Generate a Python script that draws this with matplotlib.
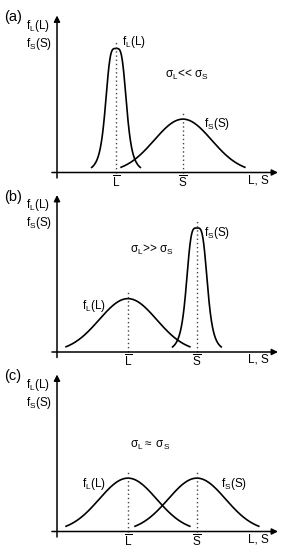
import numpy as np
import matplotlib.pyplot as plt

plt.rcParams['font.family'] = ['Liberation Sans', 'DejaVu Sans']
plt.rcParams['mathtext.fontset'] = 'custom'
plt.rcParams['mathtext.rm'] = 'Liberation Sans'
plt.rcParams['mathtext.it'] = 'Liberation Sans:italic'

# schematic values for the three panels (x in 0..10, y in 0..1)
panel_names = ['(a)', '(b)', '(c)']
mean_L = [2.67, 3.21, 3.21]
mean_S = [5.70, 6.33, 6.33]
width_L = [0.5, 1.3, 1.3]      # spread of f_L
width_S = [1.3, 0.5, 1.3]      # spread of f_S
narrow_L = [True, False, False]
narrow_S = [False, True, False]
peak_narrow = 0.79
peak_broad = 0.34
relations = ['<<', '>>', r'$\approx$']
rel_pos = [(4.89, 0.62), (3.29, 0.65), (3.29, 0.55)]
fL_pos = [(2.92, 0.83), (1.14, 0.29), (1.14, 0.30)]
fS_pos = [(6.67, 0.31), (6.67, 0.76), (7.42, 0.30)]
axis_y = [172.5, 352, 531.5]   # pixel row of each x axis

fig = plt.figure(figsize=(2.89, 5.5), dpi=100)


def curve(m, w, narrow):
    # narrow peaks: flat-topped with flared tails, broad: bell shape
    if narrow:
        x = np.linspace(m - 1.1, m + 1.1, 200)
        y = peak_narrow / (1 + ((x - m) / w) ** 4)
    else:
        x = np.linspace(m - 2.8, m + 2.8, 200)
        y = peak_broad * np.exp(-(x - m) ** 2 / (2 * w ** 2))
    return x, y


fs = 8.5
for i in range(3):
    y0 = axis_y[i]
    ax = fig.add_axes([57 / 289, 1 - y0 / 550, 221 / 289, 157 / 550])
    ax.set_xlim(0, 10)
    ax.set_ylim(0, 1)
    ax.axis('off')

    # axes with arrows
    ax.annotate('', xy=(10, 0), xytext=(-0.23, 0),
                arrowprops=dict(arrowstyle='-|>', lw=1.1, color='k',
                                mutation_scale=9, shrinkA=0, shrinkB=0),
                annotation_clip=False)
    ax.annotate('', xy=(0, 1.0), xytext=(0, -0.035),
                arrowprops=dict(arrowstyle='-|>', lw=1.1, color='k',
                                mutation_scale=9, shrinkA=0, shrinkB=0),
                annotation_clip=False)

    for m, w, nar in [(mean_L[i], width_L[i], narrow_L[i]),
                      (mean_S[i], width_S[i], narrow_S[i])]:
        x, y = curve(m, w, nar)
        ax.plot(x, y, color='k', lw=1.2, clip_on=False)
        top = (peak_narrow if nar else peak_broad) + 0.05
        ax.plot([m, m], [0, top], color='#444444', lw=1.0,
                linestyle=(0, (1, 2)), clip_on=False)

    ax.text(mean_L[i], -0.012, r'$\mathrm{\overline{L}}$', ha='center', va='top', fontsize=fs)
    ax.text(mean_S[i], -0.012, r'$\mathrm{\overline{S}}$', ha='center', va='top', fontsize=fs)
    ax.text(9.1, -0.05, 'L, S', ha='center', va='center', fontsize=fs)

    ax.text(-2.0, 0.99, panel_names[i], ha='center', va='center', fontsize=10.5)
    ax.text(-1.42, 0.935, r'$\mathrm{f_L(L)}$', ha='left', va='center', fontsize=fs)
    ax.text(-1.42, 0.82, r'$\mathrm{f_S(S)}$', ha='left', va='center', fontsize=fs)

    ax.text(fL_pos[i][0], fL_pos[i][1], r'$\mathrm{f_L(L)}$', ha='left', va='center', fontsize=fs)
    ax.text(fS_pos[i][0], fS_pos[i][1], r'$\mathrm{f_S(S)}$', ha='left', va='center', fontsize=fs)
    ax.text(rel_pos[i][0], rel_pos[i][1],
            r'$\mathrm{\sigma_L}$' + relations[i] + r' $\mathrm{\sigma_S}$',
            ha='left', va='center', fontsize=fs)

fig.savefig('out.png', dpi=100)
